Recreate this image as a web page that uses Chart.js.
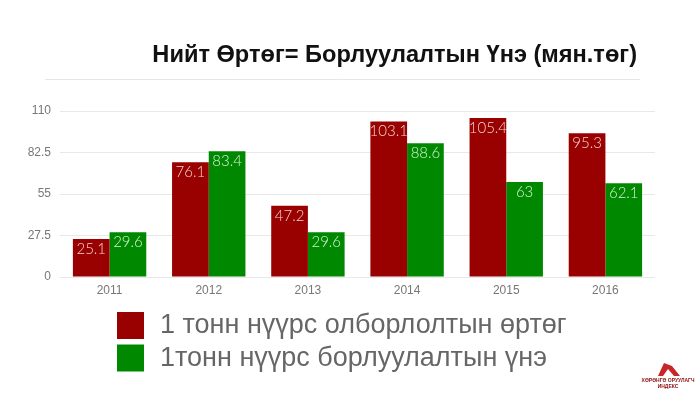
<!DOCTYPE html>
<html>
<head>
<meta charset="utf-8">
<script src="https://cdn.jsdelivr.net/npm/chart.js@4"></script>
<style>
  html, body { margin: 0; padding: 0; background: #fff; }
  #wrap { width: 700px; height: 394px; position: relative; }
</style>
</head>
<body>
<div id="wrap"><canvas id="myChart" width="700" height="394"></canvas></div>
<script>
// data
const years = ["2011", "2012", "2013", "2014", "2015", "2016"];
const costValues = [25.1, 76.1, 47.2, 103.1, 105.4, 95.3];
const priceValues = [29.6, 83.4, 29.6, 88.6, 63, 62.1];
const yTicks = [0, 27.5, 55, 82.5, 110];
const seriesNames = ["1 тонн нүүрс олборлолтын өртөг", "1тонн нүүрс борлуулалтын үнэ"];
const titleText = "Нийт Өртөг= Борлуулалтын Үнэ (мян.төг)";

const red = "rgb(153, 0, 0)";
const green = "rgb(0, 137, 0)";

// draws title, value labels, legend and logo text
const extras = {
  id: "extras",
  afterDatasetsDraw(chart) {
    const ctx = chart.ctx;
    ctx.save();
    ctx.font = "300 15px Lato, 'Open Sans', sans-serif";
    ctx.textAlign = "center";
    ctx.textBaseline = "middle";
    chart.data.datasets.forEach((ds, i) => {
      chart.getDatasetMeta(i).data.forEach((bar, j) => {
        ctx.fillStyle = i === 0 ? "#f3d0d0" : "#d4f0d4";
        ctx.fillText(String(ds.data[j]), bar.x, bar.y + 10);
      });
    });
    ctx.restore();
  },
  afterDraw(chart) {
    const ctx = chart.ctx;
    ctx.save();
    // title
    ctx.font = "bold 23.6px 'Liberation Sans', Arial, sans-serif";
    ctx.fillStyle = "#111";
    ctx.textAlign = "right";
    ctx.textBaseline = "middle";
    ctx.fillText(titleText, 637, 55);
    // thin line under title
    ctx.strokeStyle = "#e6e6e6";
    ctx.lineWidth = 1;
    ctx.beginPath();
    ctx.moveTo(45, 79.5);
    ctx.lineTo(640, 79.5);
    ctx.stroke();
    // legend
    const colors = [red, green];
    ctx.textAlign = "left";
    ctx.font = "27px 'Liberation Sans', Arial, sans-serif";
    seriesNames.forEach((name, i) => {
      const y = 312 + i * 32.5;
      ctx.fillStyle = colors[i];
      ctx.fillRect(117, y, 27, 27);
      ctx.fillStyle = "#666";
      ctx.fillText(name, 160, y + 14);
    });
    // logo
    ctx.fillStyle = "#8b1010";
    ctx.font = "bold 5px 'Liberation Sans', Arial, sans-serif";
    ctx.textAlign = "center";
    ctx.fillText("ХӨРӨНГӨ ОРУУЛАГЧ", 668, 381);
    ctx.fillText("ИНДЕКС", 668, 387);
    ctx.fillStyle = "#c8262b";
    ctx.beginPath();
    ctx.moveTo(658, 376);
    ctx.lineTo(664, 363);
    ctx.lineTo(672, 366);
    ctx.lineTo(680, 376);
    ctx.lineTo(674, 376);
    ctx.lineTo(668, 369);
    ctx.lineTo(663, 376);
    ctx.closePath();
    ctx.fill();
    ctx.restore();
  }
};

const data = {
  labels: years,
  datasets: [
    {
      label: seriesNames[0],
      data: costValues,
      backgroundColor: red,
      categoryPercentage: 0.74,
      barPercentage: 1,
    },
    {
      label: seriesNames[1],
      data: priceValues,
      backgroundColor: green,
      categoryPercentage: 0.74,
      barPercentage: 1,
    },
  ],
};

const config = {
  type: "bar",
  data,
  options: {
    responsive: false,
    animation: false,
    layout: {
      padding: { left: 0, right: 45, top: 111, bottom: 87 },
    },
    scales: {
      y: {
        min: 0,
        max: 110,
        afterFit: (s) => { s.width = 60; },
        afterBuildTicks: (s) => { s.ticks = yTicks.map((v) => ({ value: v })); },
        border: { display: false },
        grid: { color: "#e8e8e8", drawTicks: false },
        ticks: {
          padding: 9,
          color: "#777",
          font: { family: "'Liberation Sans', Arial, sans-serif", size: 12 },
        },
      },
      x: {
        afterFit: (s) => { s.height = 30; },
        border: { display: false },
        grid: { display: false, drawTicks: false },
        ticks: {
          padding: 6,
          color: "#777",
          font: { family: "'Liberation Sans', Arial, sans-serif", size: 12 },
        },
      },
    },
    plugins: {
      legend: { display: false },
      tooltip: { enabled: false },
    },
  },
  plugins: [extras],
};

const myChart = new Chart(document.getElementById("myChart"), config);
</script>
</body>
</html>
